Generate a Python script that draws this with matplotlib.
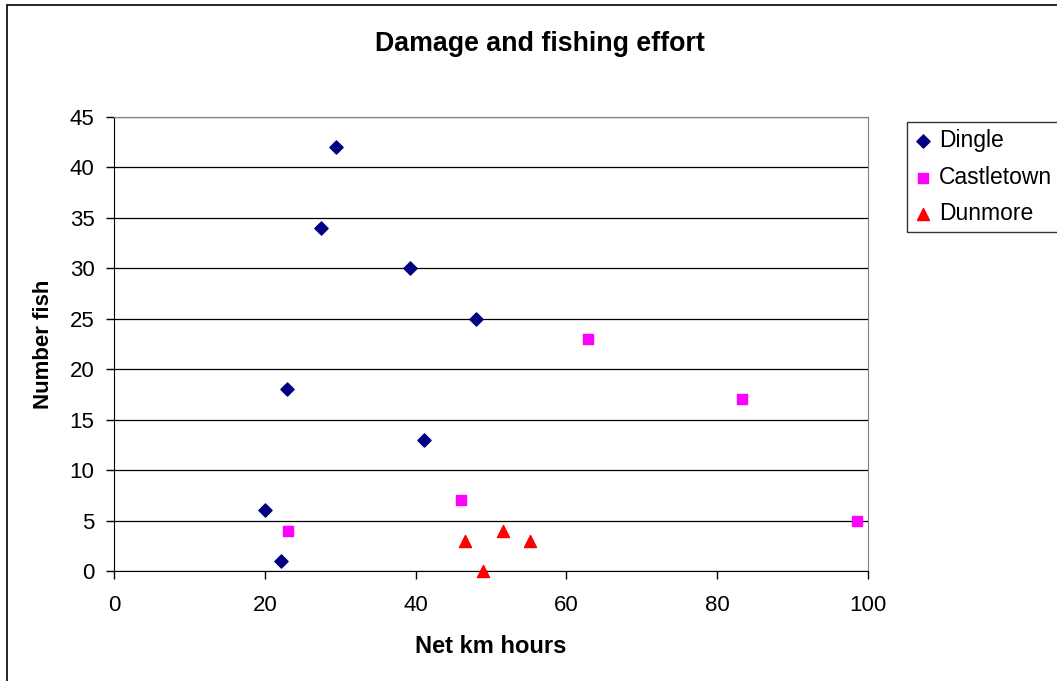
import matplotlib
matplotlib.use('Agg')
from matplotlib import pyplot as plt
from matplotlib.patches import Rectangle

# Data
dingle_x = [20, 22.1, 22.9, 27.5, 29.5, 39.3, 41.1, 48.0]
dingle_y = [6, 1, 18, 34, 42, 30, 13, 25]
castle_x = [23.1, 46.0, 62.8, 83.3, 98.5]
castle_y = [4, 7, 23, 17, 5]
dunmore_x = [46.6, 48.9, 51.6, 55.2]
dunmore_y = [3, 0, 4, 3]

x_ticks = [0, 20, 40, 60, 80, 100]
y_ticks = [0, 5, 10, 15, 20, 25, 30, 35, 40, 45]

plt.rcParams['font.family'] = ['Liberation Sans', 'DejaVu Sans']

W, H, dpi = 1057, 681, 100.0
fig = plt.figure(figsize=(W / dpi, H / dpi), dpi=dpi)

# outer chart border (right and bottom edges fall outside the picture)
fig.patches.append(Rectangle((7 / W, -0.2), 1.2, 1.2 - 5 / H, transform=fig.transFigure,
                             fill=False, edgecolor='black', linewidth=1.2))

ax = fig.add_axes([114 / W, 1 - 571 / H, (868 - 114) / W, (571 - 117) / H])
ax.set_xlim(0, 100)
ax.set_ylim(0, 45)
ax.set_xticks(x_ticks)
ax.set_yticks(y_ticks)
ax.yaxis.grid(True, color='black', linewidth=0.9)
ax.set_axisbelow(True)
for side in ['top', 'right']:
    ax.spines[side].set_color('#808080')
for side in ['left', 'bottom']:
    ax.spines[side].set_color('black')
ax.tick_params(direction='out', length=6, width=1, labelsize=16)
ax.tick_params(axis='x', pad=11)
ax.tick_params(axis='y', pad=8)

ax.scatter(dingle_x, dingle_y, marker='D', s=45, color='#000080', label='Dingle',
           zorder=3)
ax.scatter(castle_x, castle_y, marker='s', s=55, color='#FF00FF', label='Castletown',
           zorder=3)
ax.scatter(dunmore_x, dunmore_y, marker='^', s=75, color='#FF0000', label='Dunmore',
           zorder=3, clip_on=False)

ax.set_xlabel('Net km hours', fontsize=17, fontweight='bold', labelpad=14)
ax.set_ylabel('Number fish', fontsize=16, fontweight='bold', labelpad=11)
fig.text(540 / W, 1 - 44 / H, 'Damage and fishing effort', ha='center', va='center',
         fontsize=19.3, fontweight='bold')

leg = ax.legend(loc='upper left', bbox_to_anchor=(907 / W, 1 - 122 / H),
                bbox_transform=fig.transFigure, fontsize=16.5, frameon=True,
                fancybox=False, edgecolor='black', borderpad=0.3,
                labelspacing=0.6, handletextpad=0.3, handlelength=0.8,
                borderaxespad=0, scatterpoints=1)
leg.get_frame().set_linewidth(1)

fig.savefig('out.png', dpi=dpi)
